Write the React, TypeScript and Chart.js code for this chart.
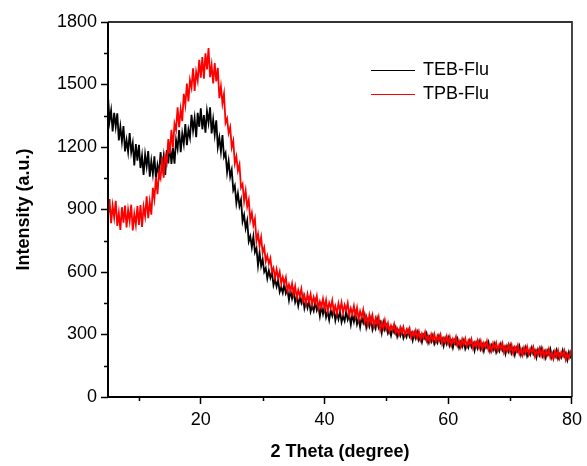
import React, { useEffect, useRef } from "react";
import { Chart, registerables } from "chart.js";

Chart.register(...registerables);

// 2θ sampling grid (degrees)
const X_START = 5;
const X_STEP = 0.25;

// Intensity values, one every 0.25° from 5° to 80°
const TEB_FLU = [
  // 5 – 9.75
  1443, 1324, 1375, 1275, 1364, 1297, 1362, 1232, 1298, 1227, 1300, 1179,
  1233, 1176, 1267, 1175, 1219, 1112, 1214, 1134,
  // 10 – 14.75
  1210, 1099, 1158, 1066, 1164, 1107, 1180, 1058, 1133, 1071, 1155, 1046,
  1113, 1070, 1175, 1098, 1157, 1066, 1185, 1121,
  // 15 – 19.75
  1214, 1119, 1195, 1120, 1234, 1192, 1281, 1175, 1264, 1215, 1310, 1209,
  1283, 1245, 1354, 1279, 1339, 1247, 1364, 1297,
  // 20 – 23.75
  1386, 1285, 1353, 1269, 1372, 1317, 1390, 1265, 1332, 1259, 1328, 1200,
  1245, 1178, 1257, 1152,
  // 24 – 29.75
  1171, 1079, 1132, 1057, 1090, 993, 1014, 930, 977, 917, 947, 843,
  874, 810, 846, 747, 771, 719, 770, 695, 715, 631, 693, 629,
  // 30 – 34.75
  661, 601, 619, 569, 607, 573, 600, 537, 565, 530, 562, 504,
  527, 500, 541, 497, 515, 465, 511, 473,
  // 35 – 39.75
  507, 455, 481, 438, 480, 452, 484, 426, 458, 428, 464, 410,
  437, 413, 457, 416, 437, 388, 435, 398,
  // 40 – 44.75
  433, 383, 411, 370, 416, 390, 424, 368, 403, 374, 412, 359,
  388, 365, 411, 371, 394, 347, 396, 361,
  // 45 – 49.75
  399, 349, 377, 336, 383, 357, 391, 335, 369, 340, 377, 324,
  352, 329, 374, 334, 356, 309, 358, 323,
  // 50 – 54.75
  343, 306, 326, 295, 328, 309, 333, 291, 317, 295, 323, 283,
  304, 287, 320, 290, 306, 272, 308, 282,
  // 55 – 59.75
  310, 274, 294, 264, 297, 279, 304, 262, 288, 267, 294, 255,
  275, 259, 292, 262, 279, 245, 281, 255,
  // 60 – 64.75
  283, 247, 268, 237, 271, 253, 278, 237, 263, 242, 270, 231,
  252, 236, 269, 240, 257, 223, 259, 234,
  // 65 – 69.75
  266, 230, 251, 221, 255, 237, 262, 221, 247, 226, 254, 215,
  236, 220, 253, 224, 241, 207, 243, 219,
  // 70 – 74.75
  247, 211, 232, 202, 236, 218, 244, 203, 229, 208, 236, 197,
  218, 203, 236, 207, 224, 190, 226, 202,
  // 75 – 79.75
  233, 197, 218, 189, 223, 205, 230, 190, 216, 195, 224, 185,
  206, 190, 224, 195, 212, 178, 215, 190,
  // 80
  198,
];

const TPB_FLU = [
  // 5 – 9.75
  866, 950, 834, 919, 861, 942, 821, 883, 802, 911, 837, 919,
  814, 898, 845, 923, 800, 879, 827, 917,
  // 10 – 14.75
  826, 921, 816, 913, 868, 963, 858, 937, 875, 1004, 951, 1056,
  974, 1081, 1052, 1153, 1053, 1155, 1126, 1238,
  // 15 – 19.75
  1168, 1283, 1197, 1312, 1282, 1390, 1295, 1381, 1324, 1455, 1402, 1505,
  1419, 1521, 1485, 1578, 1469, 1560, 1519, 1618,
  // 20 – 23.75
  1533, 1632, 1528, 1650, 1572, 1675, 1535, 1593, 1505, 1603, 1515, 1580,
  1434, 1491, 1409, 1455,
  // 24 – 29.75
  1316, 1337, 1267, 1295, 1198, 1229, 1121, 1154, 1086, 1115, 1005, 1022,
  940, 990, 914, 947, 849, 884, 825, 856, 748, 782, 725, 767,
  // 30 – 34.75
  693, 718, 651, 678, 640, 666, 600, 619, 572, 613, 571, 601,
  545, 576, 545, 574, 510, 540, 510, 545,
  // 35 – 39.75
  495, 532, 476, 513, 484, 519, 461, 487, 447, 494, 458, 494,
  443, 479, 452, 485, 425, 458, 432, 471,
  // 40 – 44.75
  425, 465, 412, 452, 426, 463, 408, 436, 399, 449, 415, 453,
  404, 442, 417, 451, 392, 426, 399, 437,
  // 45 – 49.75
  390, 428, 373, 411, 383, 418, 360, 386, 346, 393, 356, 392,
  341, 377, 350, 383, 323, 356, 330, 368,
  // 50 – 54.75
  327, 355, 315, 343, 323, 350, 307, 327, 299, 334, 308, 335,
  298, 324, 305, 329, 285, 310, 290, 319,
  // 55 – 59.75
  285, 314, 275, 304, 285, 312, 271, 291, 264, 300, 274, 302,
  266, 293, 274, 299, 256, 282, 263, 291,
  // 60 – 64.75
  258, 288, 249, 279, 260, 288, 247, 268, 241, 277, 252, 280,
  244, 271, 253, 278, 235, 261, 242, 271,
  // 65 – 69.75
  238, 268, 229, 259, 240, 268, 227, 248, 221, 257, 232, 260,
  224, 251, 233, 258, 215, 241, 222, 251,
  // 70 – 74.75
  218, 248, 209, 239, 220, 248, 207, 228, 201, 237, 213, 241,
  205, 232, 214, 239, 196, 222, 203, 232,
  // 75 – 79.75
  199, 229, 191, 221, 202, 230, 189, 210, 183, 220, 195, 223,
  187, 214, 197, 222, 179, 205, 187, 216,
  // 80
  196,
];

const SERIES_NAMES = ["TEB-Flu", "TPB-Flu"];
const SERIES_COLORS = ["#000000", "#ff0000"];

const X_MIN = 5;
const X_MAX = 80;
const X_TICKS = [20, 40, 60, 80];
const X_MINOR_TICKS = [10, 30, 50, 70];
const Y_MIN = 0;
const Y_MAX = 1800;
const Y_TICKS = [0, 300, 600, 900, 1200, 1500, 1800];
const Y_MINOR_TICKS = [150, 450, 750, 1050, 1350, 1650];

const X_TITLE = "2 Theta (degree)";
const Y_TITLE = "Intensity (a.u.)";

const FONT = "'Liberation Sans', Arial, Helvetica, sans-serif";

const toPoints = (vals: number[]) =>
  vals.map((y, i) => ({ x: X_START + i * X_STEP, y }));

const framePlugin = {
  id: "frameAndLegend",
  afterDatasetsDraw(chart: any) {
    const { ctx, chartArea: a, scales } = chart;
    ctx.save();
    // minor ticks
    ctx.strokeStyle = "#000";
    ctx.lineWidth = 1.5;
    ctx.beginPath();
    X_MINOR_TICKS.forEach((v) => {
      const px = Math.round(scales.x.getPixelForValue(v)) + 0.5;
      ctx.moveTo(px, a.bottom);
      ctx.lineTo(px, a.bottom + 4);
    });
    Y_MINOR_TICKS.forEach((v) => {
      const py = Math.round(scales.y.getPixelForValue(v)) + 0.5;
      ctx.moveTo(a.left - 4, py);
      ctx.lineTo(a.left, py);
    });
    ctx.stroke();

    // frame: top & right
    ctx.lineWidth = 1.8;
    ctx.strokeStyle = "#333";
    ctx.beginPath();
    ctx.moveTo(a.left, a.top);
    ctx.lineTo(a.right, a.top);
    ctx.lineTo(a.right, a.bottom);
    ctx.stroke();
    // axes: left & bottom
    ctx.lineWidth = 2;
    ctx.strokeStyle = "#000";
    ctx.beginPath();
    ctx.moveTo(a.left, a.top);
    ctx.lineTo(a.left, a.bottom);
    ctx.lineTo(a.right, a.bottom);
    ctx.stroke();

    // legend inside plot
    const lx = a.left + 263;
    const ly = a.top + 48;
    const rowH = 23.5;
    ctx.font = `18px ${FONT}`;
    ctx.textBaseline = "middle";
    ctx.textAlign = "left";
    SERIES_NAMES.forEach((name, i) => {
      const y = Math.round(ly + i * rowH) + 0.5;
      ctx.strokeStyle = SERIES_COLORS[i];
      ctx.lineWidth = 1;
      ctx.beginPath();
      ctx.moveTo(lx, y);
      ctx.lineTo(lx + 44, y);
      ctx.stroke();
      ctx.fillStyle = "#000";
      ctx.fillText(name, lx + 52, y);
    });
    ctx.restore();
  },
};

export default function App() {
  const canvasRef = useRef<HTMLCanvasElement | null>(null);

  useEffect(() => {
    document.body.style.margin = "0";
    const canvas = canvasRef.current;
    if (!canvas) return;
    Chart.defaults.font.family = FONT;
    Chart.defaults.color = "#000";

    const chart = new Chart(canvas, {
      type: "line",
      data: {
        datasets: [
          {
            label: SERIES_NAMES[0],
            data: toPoints(TEB_FLU),
            borderColor: SERIES_COLORS[0],
            borderWidth: 1.8,
            pointRadius: 0,
            tension: 0,
            order: 1,
          },
          {
            label: SERIES_NAMES[1],
            data: toPoints(TPB_FLU),
            borderColor: SERIES_COLORS[1],
            borderWidth: 1.8,
            pointRadius: 0,
            tension: 0,
            order: 0,
          },
        ],
      },
      options: {
        responsive: false,
        animation: false,
        devicePixelRatio: 1,
        layout: { padding: { left: 0, top: 22, right: 14, bottom: 0 } },
        plugins: {
          legend: { display: false },
          tooltip: { enabled: false },
        },
        scales: {
          x: {
            type: "linear",
            min: X_MIN,
            max: X_MAX,
            afterBuildTicks: (scale: any) => {
              scale.ticks = X_TICKS.map((v) => ({ value: v }));
            },
            afterFit: (scale: any) => {
              scale.height = 69;
            },
            grid: {
              drawOnChartArea: false,
              drawTicks: true,
              tickLength: 7,
              tickColor: "#000",
              tickWidth: 1.5,
            },
            border: { display: false },
            ticks: {
              padding: 5,
              maxRotation: 0,
              font: { size: 18, family: FONT },
              color: "#000",
              callback: (v: any) => String(v),
            },
            title: {
              display: true,
              text: X_TITLE,
              font: { size: 18, weight: "bold", family: FONT },
              color: "#000",
              padding: { top: 0, bottom: 3 },
            },
          },
          y: {
            type: "linear",
            min: Y_MIN,
            max: Y_MAX,
            afterBuildTicks: (scale: any) => {
              scale.ticks = Y_TICKS.map((v) => ({ value: v }));
            },
            afterFit: (scale: any) => {
              scale.width = 108;
            },
            grid: {
              drawOnChartArea: false,
              drawTicks: true,
              tickLength: 7,
              tickColor: "#000",
              tickWidth: 1.5,
            },
            border: { display: false },
            ticks: {
              padding: 4,
              font: { size: 18, family: FONT },
              color: "#000",
              callback: (v: any) => String(v),
            },
            title: {
              display: true,
              text: Y_TITLE,
              font: { size: 18, weight: "bold", family: FONT },
              color: "#000",
              padding: { top: 13, bottom: 0 },
            },
          },
        },
      },
      plugins: [framePlugin],
    } as any);

    return () => chart.destroy();
  }, []);

  return (
    <div style={{ position: "fixed", left: 0, top: 0, width: 587, height: 466, background: "#fff" }}>
      <canvas ref={canvasRef} width={587} height={466} />
    </div>
  );
}
